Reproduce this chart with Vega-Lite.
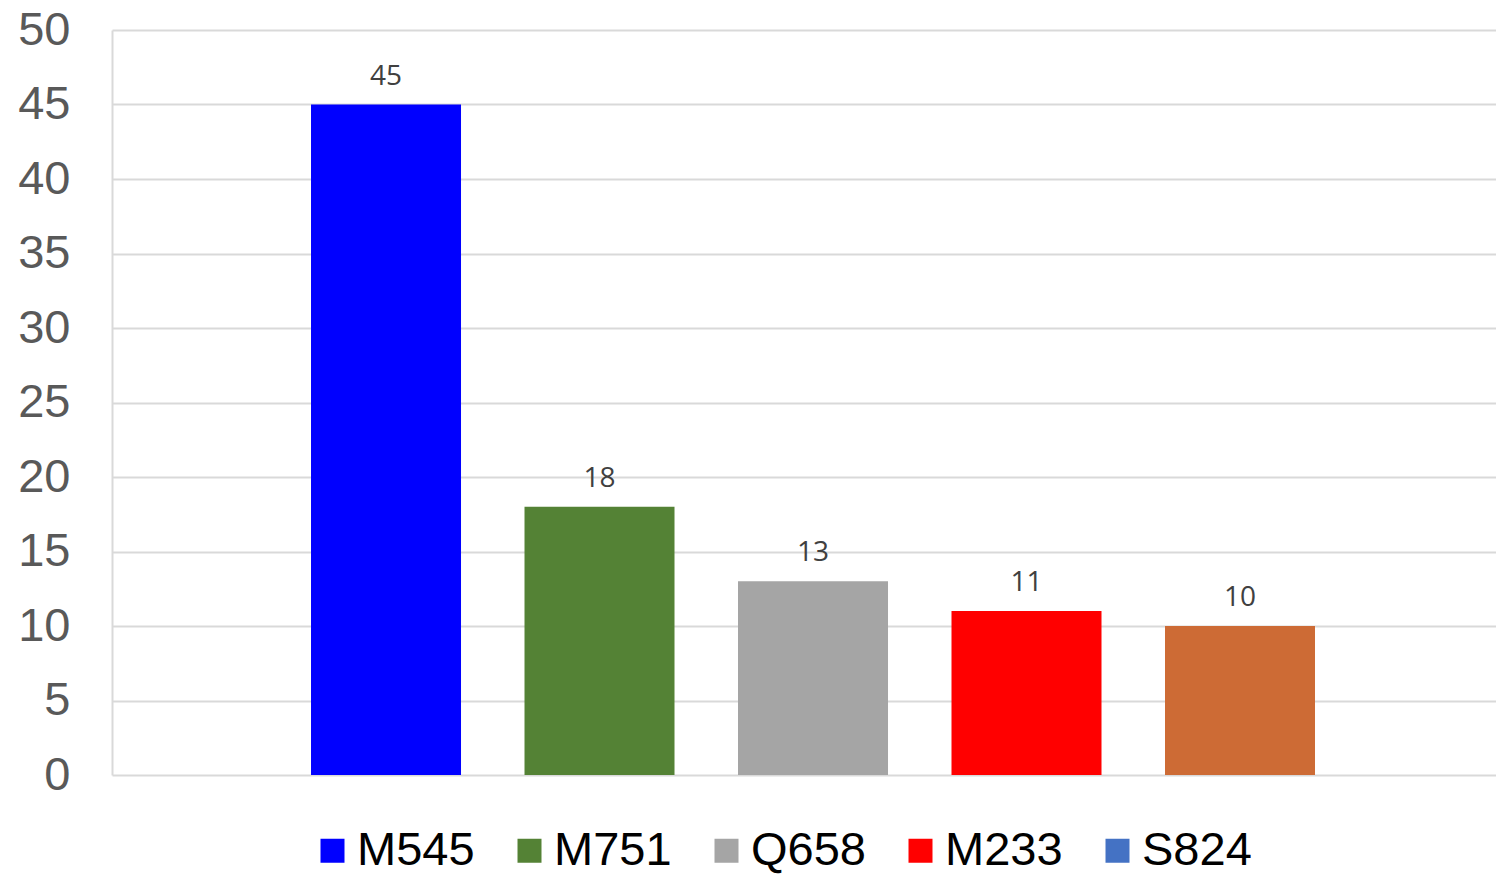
{
  "$schema": "https://vega.github.io/schema/vega-lite/v6.json",
  "width": 1384,
  "height": 745,
  "autosize": {"type": "none"},
  "padding": {"left": 112, "top": 30, "right": 0, "bottom": 101},
  "background": "white",
  "config": {"view": {"stroke": null}},
  "data": {
    "values": [
      {"series": "M545", "value": 45},
      {"series": "M751", "value": 18},
      {"series": "Q658", "value": 13},
      {"series": "M233", "value": 11},
      {"series": "S824", "value": 10}
    ]
  },
  "encoding": {
    "x": {
      "field": "series",
      "type": "nominal",
      "sort": null,
      "axis": null,
      "scale": {
        "domain": ["M545", "M751", "Q658", "M233", "S824"],
        "paddingInner": 0.2974,
        "paddingOuter": 0.88995,
        "align": 0.5237
      }
    }
  },
  "layer": [
    {
      "mark": {"type": "bar"},
      "encoding": {
        "y": {
          "field": "value",
          "type": "quantitative",
          "scale": {"domain": [0, 50], "nice": false},
          "axis": {
            "title": null,
            "values": [0, 5, 10, 15, 20, 25, 30, 35, 40, 45, 50],
            "grid": true,
            "gridColor": "#d9d9d9",
            "gridWidth": 2,
            "domain": true,
            "domainColor": "#d9d9d9",
            "domainWidth": 2,
            "ticks": false,
            "tickSize": 0,
            "labelPadding": 42,
            "labelFont": "Liberation Sans",
            "labelFontSize": 47,
            "labelColor": "#595959"
          }
        },
        "color": {
          "field": "series",
          "type": "nominal",
          "scale": {
            "domain": ["M545", "M751", "Q658", "M233", "S824"],
            "range": ["#0000ff", "#548235", "#a5a5a5", "#ff0000", "#cd6b35"]
          },
          "legend": null
        }
      }
    },
    {
      "mark": {"type": "bar"},
      "encoding": {
        "y": {"datum": 0, "type": "quantitative"},
        "color": {
          "field": "series",
          "type": "nominal",
          "scale": {
            "domain": ["M545", "M751", "Q658", "M233", "S824"],
            "range": ["#0000ff", "#548235", "#a5a5a5", "#ff0000", "#4472c4"]
          },
          "legend": {
            "title": null,
            "orient": "none",
            "legendX": 197,
            "legendY": 797,
            "direction": "horizontal",
            "symbolType": "square",
            "symbolSize": 576,
            "symbolStrokeWidth": 0,
            "symbolOpacity": 1,
            "labelFont": "Liberation Sans",
            "labelFontSize": 47,
            "labelColor": "#000000",
            "labelOffset": 1,
            "columnPadding": 31,
            "padding": 0
          }
        }
      }
    },
    {
      "mark": {
        "type": "text",
        "dy": -20,
        "baseline": "alphabetic",
        "font": "Open Sans",
        "fontSize": 28,
        "color": "#404040"
      },
      "encoding": {
        "y": {"field": "value", "type": "quantitative"},
        "text": {"field": "value", "type": "quantitative"}
      }
    }
  ],
  "resolve": {"scale": {"color": "independent"}}
}
